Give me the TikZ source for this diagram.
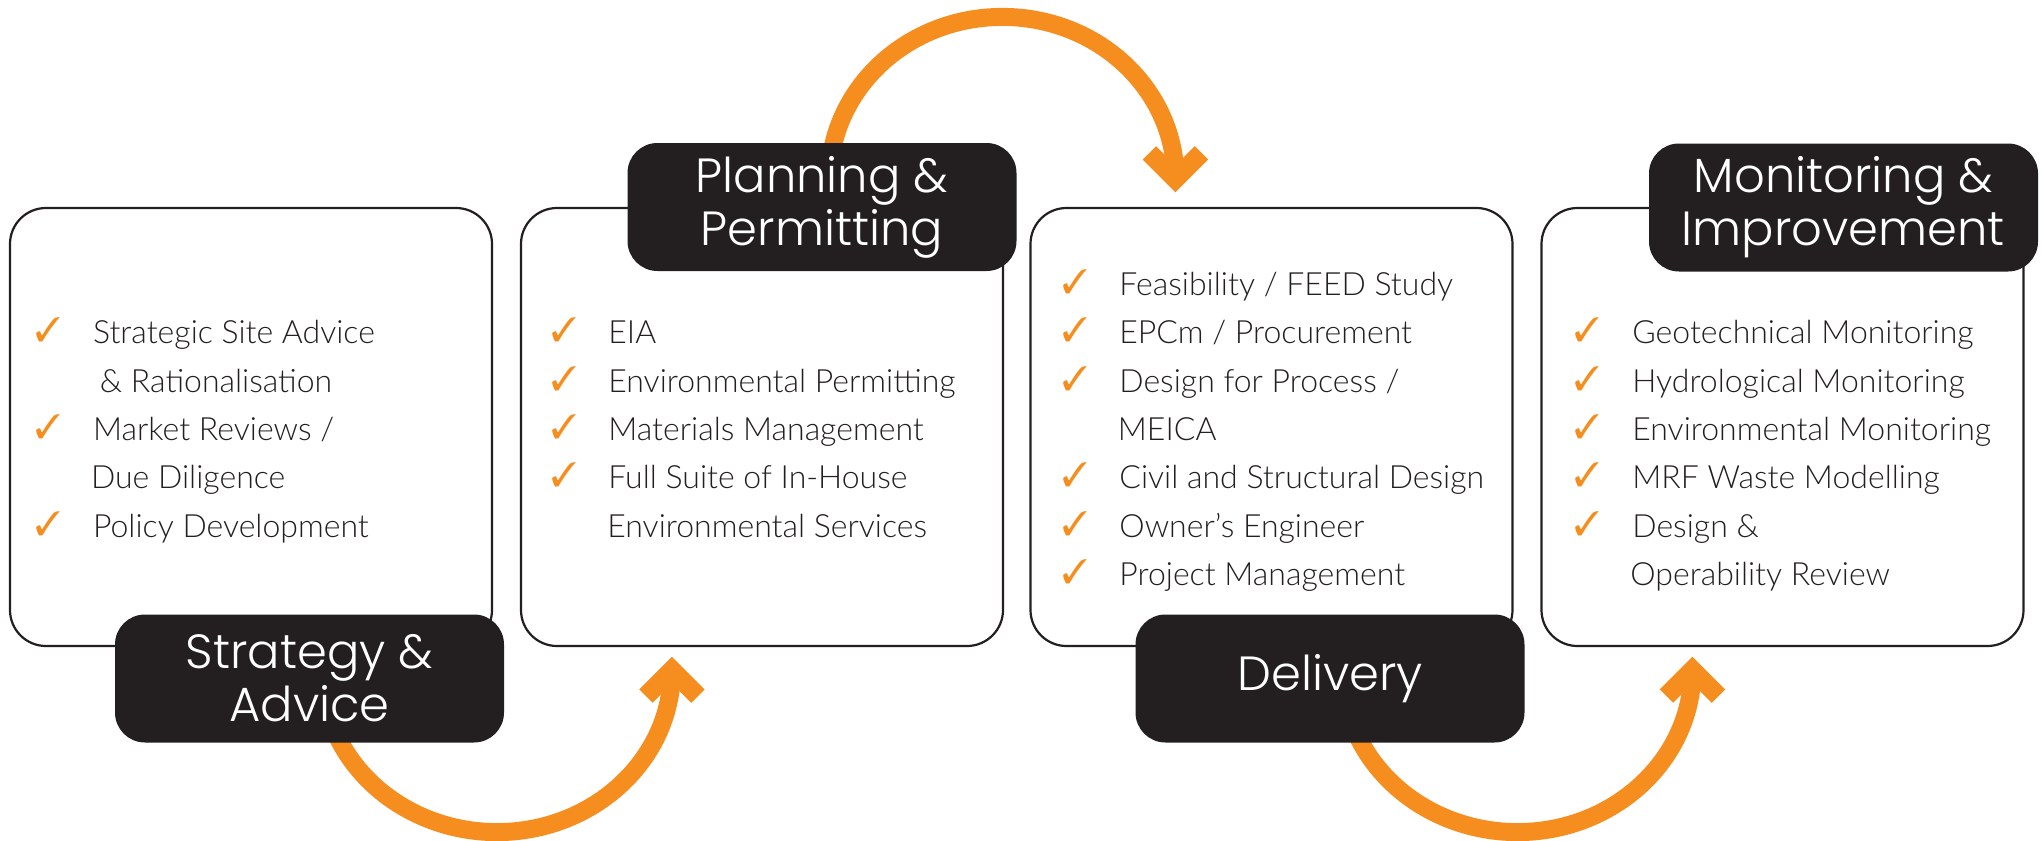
\documentclass[tikz,border=0pt]{standalone}
\usepackage{fontspec}
\usepackage{pifont}
\newfontfamily\bodyfont{Lato Light}
\newfontfamily\titlefont{Poppins Light}
\usetikzlibrary{calc}
\definecolor{orng}{RGB}{246,142,31}
\definecolor{ink}{RGB}{35,31,32}
\pgfdeclarelayer{bg}
\pgfsetlayers{bg,main}
\begin{document}
\begin{tikzpicture}[x=0.5pt,y=-0.5pt,
  panel/.style={draw=ink, line width=1.1pt, fill=white, rounded corners=18pt, minimum width=241pt, minimum height=219pt, inner sep=0pt},
  ttl/.style={fill=ink, rounded corners=15pt, text=white, font=\titlefont\fontsize{24}{26.5}\selectfont, align=center, minimum width=194.5pt, minimum height=64pt, inner sep=0pt},
  itm/.style={anchor=base west, inner sep=0pt, text=ink, font=\bodyfont\fontsize{16}{19}\selectfont},
  chk/.style={anchor=base, inner sep=0pt, text=orng, font=\fontsize{17}{18}\selectfont},
  shaft/.style={draw=orng, line width=9pt, line cap=butt},
  chev/.style={draw=orng, line width=9.5pt, line cap=butt, line join=miter}]
\useasboundingbox (0,0) rectangle (2042,841);
% panels
\node[panel] (n1) at (251,427) {};
\node[panel] (n2) at (762,427) {};
\node[panel] (n3) at (1271.5,427) {};
\node[panel] (n4) at (1782.5,427) {};
% panel 1
\node[itm] (p1a) at (92.7,343.8) {Strategic Site Advice};
\node[itm] (p1b) at (99.5,392.1) {\& Rationalisation};
\node[itm] (p1c) at (92.7,440.4) {Market Reviews /};
\node[itm] (p1d) at (90.7,488.7) {Due Diligence};
\node[itm] (p1e) at (92.7,537) {Policy Development};
\node[chk] (k1a) at (48,341.8) {\ding{51}};
\node[chk] (k1c) at (48,438.4) {\ding{51}};
\node[chk] (k1e) at (48,535) {\ding{51}};
% panel 2
\node[itm] (p2a) at (608,343.8) {EIA};
\node[itm] (p2b) at (608,392.1) {Environmental Permitting};
\node[itm] (p2c) at (608,440.4) {Materials Management};
\node[itm] (p2d) at (608,488.7) {Full Suite of In-House};
\node[itm] (p2e) at (607,537) {Environmental Services};
\node[chk] (k2a) at (564,341.8) {\ding{51}};
\node[chk] (k2b) at (564,390.1) {\ding{51}};
\node[chk] (k2c) at (564,438.4) {\ding{51}};
\node[chk] (k2d) at (564,486.7) {\ding{51}};
% panel 3
\node[itm] (p3a) at (1119,295.5) {Feasibility / FEED Study};
\node[itm] (p3b) at (1119,343.8) {EPCm / Procurement};
\node[itm] (p3c) at (1119,392.1) {Design for Process /};
\node[itm] (p3d) at (1117.5,440.4) {MEICA};
\node[itm] (p3e) at (1119,488.7) {Civil and Structural Design};
\node[itm] (p3f) at (1119,537) {Owner’s Engineer};
\node[itm] (p3g) at (1119,585.3) {Project Management};
\node[chk] (k3a) at (1075,293.5) {\ding{51}};
\node[chk] (k3b) at (1075,341.8) {\ding{51}};
\node[chk] (k3c) at (1075,390.1) {\ding{51}};
\node[chk] (k3e) at (1075,486.7) {\ding{51}};
\node[chk] (k3f) at (1075,535) {\ding{51}};
\node[chk] (k3g) at (1075,583.3) {\ding{51}};
% panel 4
\node[itm] (p4a) at (1632,343.8) {Geotechnical Monitoring};
\node[itm] (p4b) at (1632,392.1) {Hydrological Monitoring};
\node[itm] (p4c) at (1632,440.4) {Environmental Monitoring};
\node[itm] (p4d) at (1632,488.7) {MRF Waste Modelling};
\node[itm] (p4e) at (1632,537) {Design \&};
\node[itm] (p4f) at (1630,585.3) {Operability Review};
\node[chk] (k4a) at (1587,341.8) {\ding{51}};
\node[chk] (k4b) at (1587,390.1) {\ding{51}};
\node[chk] (k4c) at (1587,438.4) {\ding{51}};
\node[chk] (k4d) at (1587,486.7) {\ding{51}};
\node[chk] (k4e) at (1587,535) {\ding{51}};
% titles
\node[ttl] (t1) at (309.5,678.5) {Strategy \&\\Advice};
\node[ttl] (t2) at (822,207) {Planning \&\\Permitting};
\node[ttl] (t3) at (1330,678.5) {Delivery};
\node[ttl] (t4) at (1843.5,207.5) {Monitoring \&\\Improvement};
% arrows
\coordinate (a1v) at ([shift={(152,23)}]n2.south west);
\coordinate (a2v) at ([shift={(146,-28)}]n3.north west);
\coordinate (a3v) at ([shift={(152,23)}]n4.south west);
\begin{pgfonlayer}{bg}
\fill[white] (0,0) rectangle (2042,841);
\draw[shaft] (a1v) arc[start angle=0, end angle=160, x radius=175, y radius=162];
\draw[shaft] (a2v) arc[start angle=0, end angle=-180, x radius=173, y radius=162];
\draw[shaft] (a3v) arc[start angle=0, end angle=160, x radius=175, y radius=162];
\end{pgfonlayer}
\draw[chev] ($(a1v)+(-26,26)$) -- (a1v) -- ($(a1v)+(26,26)$);
\draw[chev] ($(a2v)+(-26,-26)$) -- (a2v) -- ($(a2v)+(26,-26)$);
\draw[chev] ($(a3v)+(-26,26)$) -- (a3v) -- ($(a3v)+(26,26)$);
\end{tikzpicture}
\end{document}
